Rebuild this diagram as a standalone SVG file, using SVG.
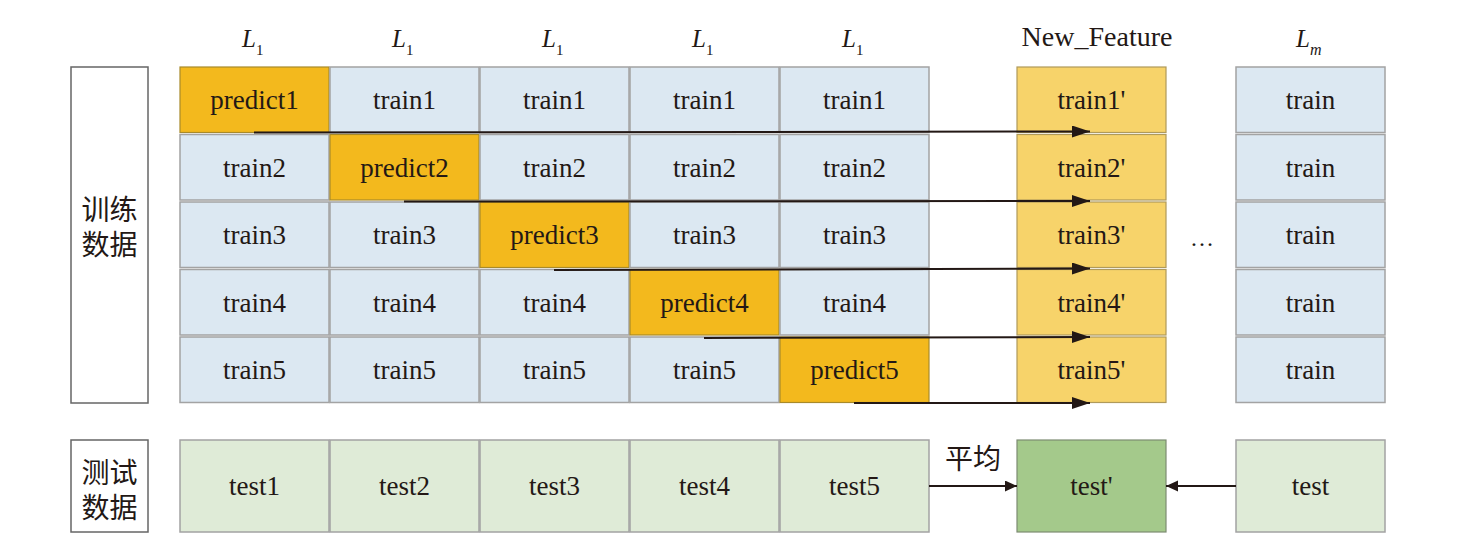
<svg xmlns="http://www.w3.org/2000/svg" width="1467" height="560" viewBox="0 0 1467 560">
<defs>
<style>
.t{font-family:"Liberation Serif","Times New Roman",serif;font-size:27px;fill:#231815;text-anchor:middle}
.h{font-family:"Liberation Serif","Times New Roman",serif;fill:#231815}
.L{font-family:"Liberation Serif","Times New Roman",serif;fill:#231815;font-size:25px;font-style:italic}
.cn{font-family:"Noto Sans CJK SC","Noto Sans CJK JP",sans-serif;font-size:28px;fill:#231815;text-anchor:middle}
.tr{fill:#dce8f2;stroke:#a3a3a3;stroke-width:1.5}
.pr{fill:#f3b91d;stroke:#a88a2a;stroke-width:1.2}
.nf{fill:#f7d36a;stroke:#b09a5a;stroke-width:1.2}
.te{fill:#dfebd7;stroke:#a3a3a3;stroke-width:1.5}
.tp{fill:#a4c98b;stroke:#7d8c72;stroke-width:1.2}
.lb{fill:#ffffff;stroke:#666;stroke-width:1.5}
.ar{stroke:#231815;stroke-width:2;fill:none}
</style>
<marker id="ah" markerUnits="userSpaceOnUse" markerWidth="20" markerHeight="14" refX="18" refY="6" orient="auto">
<path d="M0,0 L18,6 L0,12 z" fill="#231815"/>
</marker>
<marker id="ah2" markerUnits="userSpaceOnUse" markerWidth="14" markerHeight="13" refX="12" refY="5.5" orient="auto">
<path d="M0,0 L12,5.5 L0,11 z" fill="#231815"/>
</marker>
</defs>
<rect width="1467" height="560" fill="#ffffff"/>

<g id="headers">
<text class="L" x="242" y="47">L<tspan font-size="15" font-style="normal" dy="8">1</tspan></text>
<text class="L" x="392" y="47">L<tspan font-size="15" font-style="normal" dy="8">1</tspan></text>
<text class="L" x="542" y="47">L<tspan font-size="15" font-style="normal" dy="8">1</tspan></text>
<text class="L" x="692" y="47">L<tspan font-size="15" font-style="normal" dy="8">1</tspan></text>
<text class="L" x="842" y="47">L<tspan font-size="15" font-style="normal" dy="8">1</tspan></text>
<text class="h" x="1097" y="46" font-size="28" text-anchor="middle">New_Feature</text>
<text class="L" x="1296" y="47">L<tspan font-size="16" dy="8">m</tspan></text>
</g>

<g id="label-train">
<rect class="lb" x="71" y="67" width="77" height="336"/>
<text class="cn" x="109.5" y="220">训练<tspan x="109.5" dy="35">数据</tspan></text>
</g>
<g id="label-test">
<rect class="lb" x="71" y="440" width="77" height="92"/>
<text class="cn" x="109.5" y="483">测试<tspan x="109.5" dy="35">数据</tspan></text>
</g>

<g id="row1">
<rect class="pr" x="180" y="67" width="149" height="65.5"/><text class="t" x="254.5" y="109">predict1</text>
<rect class="tr" x="330" y="67" width="149" height="65.5"/><text class="t" x="404.5" y="109">train1</text>
<rect class="tr" x="480" y="67" width="149" height="65.5"/><text class="t" x="554.5" y="109">train1</text>
<rect class="tr" x="630" y="67" width="149" height="65.5"/><text class="t" x="704.5" y="109">train1</text>
<rect class="tr" x="780" y="67" width="149" height="65.5"/><text class="t" x="854.5" y="109">train1</text>
</g>
<g id="row2">
<rect class="tr" x="180" y="134.5" width="149" height="65.5"/><text class="t" x="254.5" y="176.5">train2</text>
<rect class="pr" x="330" y="134.5" width="149" height="65.5"/><text class="t" x="404.5" y="176.5">predict2</text>
<rect class="tr" x="480" y="134.5" width="149" height="65.5"/><text class="t" x="554.5" y="176.5">train2</text>
<rect class="tr" x="630" y="134.5" width="149" height="65.5"/><text class="t" x="704.5" y="176.5">train2</text>
<rect class="tr" x="780" y="134.5" width="149" height="65.5"/><text class="t" x="854.5" y="176.5">train2</text>
</g>
<g id="row3">
<rect class="tr" x="180" y="202" width="149" height="65.5"/><text class="t" x="254.5" y="244">train3</text>
<rect class="tr" x="330" y="202" width="149" height="65.5"/><text class="t" x="404.5" y="244">train3</text>
<rect class="pr" x="480" y="202" width="149" height="65.5"/><text class="t" x="554.5" y="244">predict3</text>
<rect class="tr" x="630" y="202" width="149" height="65.5"/><text class="t" x="704.5" y="244">train3</text>
<rect class="tr" x="780" y="202" width="149" height="65.5"/><text class="t" x="854.5" y="244">train3</text>
</g>
<g id="row4">
<rect class="tr" x="180" y="269.5" width="149" height="65.5"/><text class="t" x="254.5" y="311.5">train4</text>
<rect class="tr" x="330" y="269.5" width="149" height="65.5"/><text class="t" x="404.5" y="311.5">train4</text>
<rect class="tr" x="480" y="269.5" width="149" height="65.5"/><text class="t" x="554.5" y="311.5">train4</text>
<rect class="pr" x="630" y="269.5" width="149" height="65.5"/><text class="t" x="704.5" y="311.5">predict4</text>
<rect class="tr" x="780" y="269.5" width="149" height="65.5"/><text class="t" x="854.5" y="311.5">train4</text>
</g>
<g id="row5">
<rect class="tr" x="180" y="337" width="149" height="65.5"/><text class="t" x="254.5" y="379">train5</text>
<rect class="tr" x="330" y="337" width="149" height="65.5"/><text class="t" x="404.5" y="379">train5</text>
<rect class="tr" x="480" y="337" width="149" height="65.5"/><text class="t" x="554.5" y="379">train5</text>
<rect class="tr" x="630" y="337" width="149" height="65.5"/><text class="t" x="704.5" y="379">train5</text>
<rect class="pr" x="780" y="337" width="149" height="65.5"/><text class="t" x="854.5" y="379">predict5</text>
</g>

<g id="new-feature">
<rect class="nf" x="1017" y="67" width="149" height="65.5"/><text class="t" x="1091.5" y="109">train1'</text>
<rect class="nf" x="1017" y="134.5" width="149" height="65.5"/><text class="t" x="1091.5" y="176.5">train2'</text>
<rect class="nf" x="1017" y="202" width="149" height="65.5"/><text class="t" x="1091.5" y="244">train3'</text>
<rect class="nf" x="1017" y="269.5" width="149" height="65.5"/><text class="t" x="1091.5" y="311.5">train4'</text>
<rect class="nf" x="1017" y="337" width="149" height="65.5"/><text class="t" x="1091.5" y="379">train5'</text>
</g>

<g id="lm">
<rect class="tr" x="1236" y="67" width="149" height="65.5"/><text class="t" x="1310.5" y="109">train</text>
<rect class="tr" x="1236" y="134.5" width="149" height="65.5"/><text class="t" x="1310.5" y="176.5">train</text>
<rect class="tr" x="1236" y="202" width="149" height="65.5"/><text class="t" x="1310.5" y="244">train</text>
<rect class="tr" x="1236" y="269.5" width="149" height="65.5"/><text class="t" x="1310.5" y="311.5">train</text>
<rect class="tr" x="1236" y="337" width="149" height="65.5"/><text class="t" x="1310.5" y="379">train</text>
</g>

<g id="ellipsis">
<text class="h" x="1202" y="246" font-size="24" text-anchor="middle">…</text>
</g>

<g id="test-row">
<rect class="te" x="180" y="440" width="149" height="92"/><text class="t" x="254.5" y="495">test1</text>
<rect class="te" x="330" y="440" width="149" height="92"/><text class="t" x="404.5" y="495">test2</text>
<rect class="te" x="480" y="440" width="149" height="92"/><text class="t" x="554.5" y="495">test3</text>
<rect class="te" x="630" y="440" width="149" height="92"/><text class="t" x="704.5" y="495">test4</text>
<rect class="te" x="780" y="440" width="149" height="92"/><text class="t" x="854.5" y="495">test5</text>
<rect class="tp" x="1017" y="440" width="149" height="92"/><text class="t" x="1091.5" y="495">test'</text>
<rect class="te" x="1236" y="440" width="149" height="92"/><text class="t" x="1310.5" y="495">test</text>
</g>

<g id="connectors">
<line class="ar" x1="254" y1="132.5" x2="1090" y2="131.5" marker-end="url(#ah)"/>
<line class="ar" x1="404" y1="201.5" x2="1090" y2="201" marker-end="url(#ah)"/>
<line class="ar" x1="554" y1="270" x2="1090" y2="268.5" marker-end="url(#ah)"/>
<line class="ar" x1="704" y1="338" x2="1090" y2="337" marker-end="url(#ah)"/>
<line class="ar" x1="854" y1="403" x2="1090" y2="403" marker-end="url(#ah)"/>
<line class="ar" x1="929" y1="486" x2="1017" y2="486" marker-end="url(#ah2)"/>
<line class="ar" x1="1236" y1="486" x2="1166" y2="486" marker-end="url(#ah2)"/>
<text class="cn" x="973" y="469" font-size="27">平均</text>
</g>
</svg>
